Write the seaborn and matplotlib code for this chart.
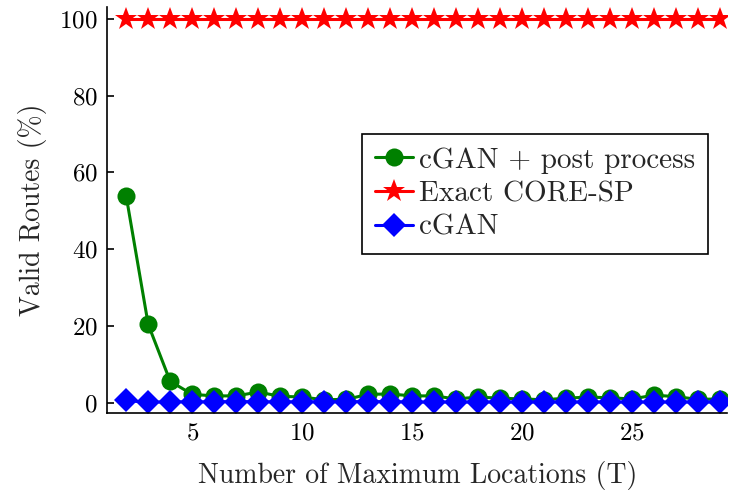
import seaborn as sns
import matplotlib.pyplot as plt
import pandas as pd

# Number of maximum locations (T)
T = list(range(2, 30))

# Valid routes (%) per method
post_process = [53.8, 20.4, 5.6, 2.2, 1.8, 1.8, 2.8, 1.7, 1.5, 0.8, 0.9, 2.2, 2.3, 1.8,
                1.8, 1.0, 1.5, 1.2, 1.0, 0.8, 1.2, 1.5, 1.3, 1.0, 2.0, 1.6, 0.9, 1.0]
exact_core = [100.0] * 28
cgan = [0.6, 0.1, 0.3, 0.2, 0.3, 0.3, 0.3, 0.2, 0.3, 0.2, 0.3, 0.3, 0.3, 0.2,
        0.2, 0.2, 0.2, 0.2, 0.2, 0.2, 0.2, 0.2, 0.2, 0.2, 0.2, 0.2, 0.2, 0.2]

df_post = pd.DataFrame({"T": T, "Valid": post_process})
df_exact = pd.DataFrame({"T": T, "Valid": exact_core})
df_cgan = pd.DataFrame({"T": T, "Valid": cgan})

sns.set_style("ticks")
plt.rcParams["font.family"] = ["cmr10", "DejaVu Serif"]
plt.rcParams["axes.formatter.use_mathtext"] = True
plt.rcParams["mathtext.fontset"] = "cm"

fig = plt.figure(figsize=(7.3, 4.92), dpi=100)
ax = fig.add_axes([0.147, 0.161, 0.849, 0.825])

sns.lineplot(data=df_post, x="T", y="Valid", ax=ax, color="#008000", lw=2.2,
             marker="o", markersize=13, markeredgewidth=0, label="cGAN + post process")
sns.lineplot(data=df_exact, x="T", y="Valid", ax=ax, color="#ff0000", lw=2.2,
             marker="*", markersize=17, markeredgewidth=0, label="Exact CORE-SP")
sns.lineplot(data=df_cgan, x="T", y="Valid", ax=ax, color="#0000ff", lw=2.2,
             marker="D", markersize=12, markeredgewidth=0, label="cGAN")

ax.set_xlim(1.14, 29.32)
ax.set_ylim(-2.6, 103.1)
ax.set_xticks([5, 10, 15, 20, 25])
ax.set_yticks([0, 20, 40, 60, 80, 100])
ax.tick_params(direction="in", length=5, width=1.2, labelsize=18, colors="black", pad=7)
for s in ["top", "right"]:
    ax.spines[s].set_visible(False)
for s in ["left", "bottom"]:
    ax.spines[s].set_linewidth(1.2)
    ax.spines[s].set_color("black")

ax.set_xlabel("Number of Maximum Locations (T)", fontsize=20, labelpad=12)
ax.set_ylabel("Valid Routes (%)", fontsize=20, labelpad=9)

leg = ax.legend(loc="upper left", bbox_to_anchor=(0.411, 0.687), fontsize=21,
                fancybox=False, edgecolor="black", framealpha=1,
                handlelength=1.3, handletextpad=0.2, borderpad=0.45, labelspacing=0.25,
                borderaxespad=0)
leg.get_frame().set_linewidth(1.2)

plt.savefig("out.png", dpi=100)
